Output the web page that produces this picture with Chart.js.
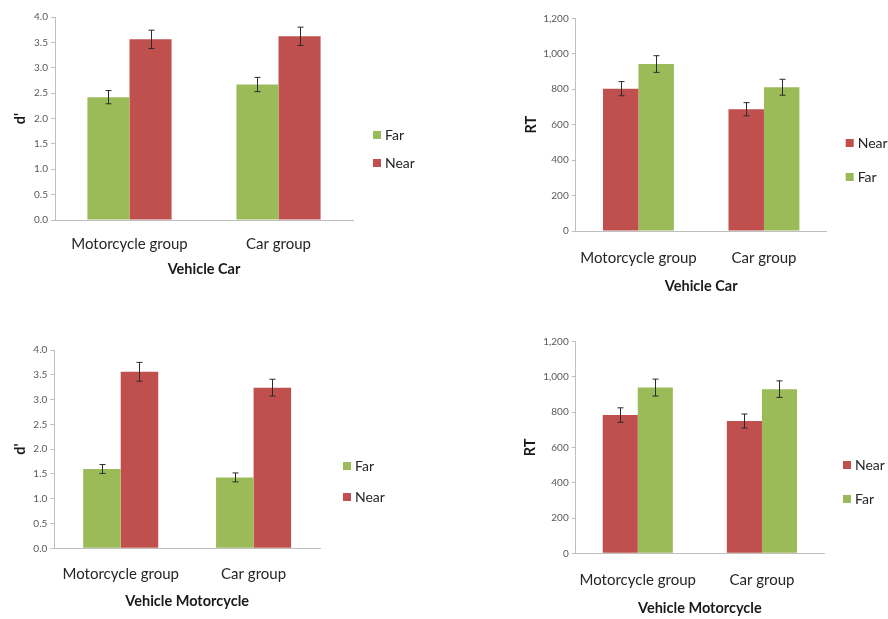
<!DOCTYPE html>
<html>
<head>
<meta charset="utf-8">
<title>d' and RT by vehicle</title>
<script src="https://cdn.jsdelivr.net/npm/chart.js@4.4.0/dist/chart.umd.min.js"></script>
<style>
  html, body { margin: 0; padding: 0; background: #fff; }
  #wrap { position: relative; width: 888px; height: 619px; overflow: hidden; }
  .panel { position: absolute; }
</style>
</head>
<body>
<div id="wrap">
  <canvas class="panel" id="c1"></canvas>
  <canvas class="panel" id="c2"></canvas>
  <canvas class="panel" id="c3"></canvas>
  <canvas class="panel" id="c4"></canvas>
</div>
<script>
// data
const categories = ["Motorcycle group", "Car group"];

const carDFar = [2.42, 2.67];
const carDFarErr = [0.13, 0.14];
const carDNear = [3.56, 3.62];
const carDNearErr = [0.18, 0.18];

const carRTNear = [803, 687];
const carRTNearErr = [40, 37];
const carRTFar = [942, 811];
const carRTFarErr = [47, 45];

const motoDFar = [1.60, 1.43];
const motoDFarErr = [0.09, 0.09];
const motoDNear = [3.56, 3.24];
const motoDNearErr = [0.19, 0.17];

const motoRTNear = [784, 750];
const motoRTNearErr = [41, 40];
const motoRTFar = [940, 931];
const motoRTFarErr = [48, 47];

const dTicks = { max: 4, step: 0.5 };
const rtTicks = { max: 1200, step: 200 };

const GREEN = "#9bbb59";
const RED = "#c0504d";
const FONT = "Lato";

// error bars drawn from the dataset's err array through the y scale
const errorBars = {
  id: "errorBars",
  afterDatasetsDraw(chart) {
    const ctx = chart.ctx;
    const y = chart.scales.y;
    ctx.save();
    ctx.strokeStyle = "#2b2b2b";
    ctx.lineWidth = 1;
    chart.data.datasets.forEach((ds, i) => {
      const meta = chart.getDatasetMeta(i);
      meta.data.forEach((bar, j) => {
        const v = ds.data[j], e = ds.err[j];
        const top = y.getPixelForValue(v + e);
        const bot = y.getPixelForValue(v - e);
        const x = Math.round(bar.x) + 0.5;
        ctx.beginPath();
        ctx.moveTo(x, top); ctx.lineTo(x, bot);
        ctx.moveTo(x - 3, top); ctx.lineTo(x + 3, top);
        ctx.moveTo(x - 3, bot); ctx.lineTo(x + 3, bot);
        ctx.stroke();
      });
    });
    ctx.restore();
  }
};

// legend to the right of the plot, Excel style
const sideLegend = {
  id: "sideLegend",
  afterDraw(chart, args, opts) {
    const ctx = chart.ctx;
    const x = chart.chartArea.right + opts.dx;
    ctx.save();
    ctx.font = "14px " + FONT;
    ctx.textBaseline = "middle";
    ctx.textAlign = "left";
    chart.data.datasets.forEach((ds, i) => {
      const yy = opts.rows[i];
      ctx.fillStyle = ds.backgroundColor;
      ctx.fillRect(x, yy - 4, 8, 8);
      ctx.fillStyle = "#262626";
      ctx.fillText(ds.label, x + 12, yy);
    });
    ctx.restore();
  }
};

function makeChart(id, box, plot, axes, datasets, yTitle, xTitle, ticksCfg, fmt, legend) {
  const cv = document.getElementById(id);
  cv.width = box.w; cv.height = box.h;
  cv.style.left = box.x + "px"; cv.style.top = box.y + "px";
  cv.style.width = box.w + "px"; cv.style.height = box.h + "px";

  const lh = 18;       // 15px labels
  const tlh = 17.4;    // 14.5px titles
  const xAxisH = axes.title + tlh / 2;
  const yAxisW = plot.l - box.x;

  new Chart(cv, {
    type: "bar",
    data: { labels: categories, datasets: datasets },
    plugins: [errorBars, sideLegend],
    options: {
      responsive: false,
      animation: false,
      layout: {
        padding: {
          left: 0,
          top: plot.t - box.y,
          right: box.x + box.w - plot.r,
          bottom: box.y + box.h - plot.b - xAxisH
        }
      },
      plugins: {
        legend: { display: false },
        tooltip: { enabled: false },
        sideLegend: { dx: legend.dx, rows: legend.rows.map(r => r - box.y) }
      },
      datasets: { bar: { categoryPercentage: 0.565, barPercentage: 1 } },
      scales: {
        x: {
          grid: { display: false, drawTicks: false, tickLength: 0 },
          border: { color: "#bfbfbf" },
          ticks: {
            padding: axes.labels - lh / 2,
            color: "#262626",
            font: { family: FONT, size: 15 },
            maxRotation: 0
          },
          title: {
            display: true, text: xTitle, color: "#1a1a1a",
            font: { family: FONT, size: 14.5, weight: "bold" },
            padding: { top: 0, bottom: 0 }
          },
          afterFit(s) { s.height = xAxisH; }
        },
        y: {
          min: 0, max: ticksCfg.max,
          grid: { drawOnChartArea: false, drawTicks: true, tickLength: 4, color: "#bfbfbf" },
          border: { color: "#bfbfbf" },
          ticks: {
            stepSize: ticksCfg.step,
            padding: 3,
            color: "#595959",
            font: { family: FONT, size: 10 },
            callback: fmt
          },
          title: {
            display: true, text: yTitle, color: "#1a1a1a",
            font: { family: FONT, size: 14.5, weight: "bold" },
            padding: { top: axes.ytitle - box.x - tlh / 2, bottom: 0 }
          },
          afterFit(s) { s.width = yAxisW; }
        }
      }
    }
  });
}

const fmtD = v => v.toFixed(1);
const fmtRT = v => v.toLocaleString("en-US");

makeChart("c1",
  { x: 0, y: 0, w: 444, h: 300 },
  { l: 55, t: 17, r: 353, b: 220 },
  { labels: 24, title: 49, ytitle: 20.7 },
  [
    { label: "Far", data: carDFar, err: carDFarErr, backgroundColor: GREEN },
    { label: "Near", data: carDNear, err: carDNearErr, backgroundColor: RED }
  ],
  "d'", "Vehicle Car", dTicks, fmtD,
  { dx: 20, rows: [135, 163] });

makeChart("c2",
  { x: 444, y: 0, w: 444, h: 310 },
  { l: 575.7, t: 18.3, r: 826.7, b: 231 },
  { labels: 27, title: 55, ytitle: 531 },
  [
    { label: "Near", data: carRTNear, err: carRTNearErr, backgroundColor: RED },
    { label: "Far", data: carRTFar, err: carRTFarErr, backgroundColor: GREEN }
  ],
  "RT", "Vehicle Car", rtTicks, fmtRT,
  { dx: 19, rows: [143, 177] });

makeChart("c3",
  { x: 0, y: 310, w: 444, h: 309 },
  { l: 54.3, t: 350, r: 320, b: 548.3 },
  { labels: 25.7, title: 52.7, ytitle: 20.7 },
  [
    { label: "Far", data: motoDFar, err: motoDFarErr, backgroundColor: GREEN },
    { label: "Near", data: motoDNear, err: motoDNearErr, backgroundColor: RED }
  ],
  "d'", "Vehicle Motorcycle", dTicks, fmtD,
  { dx: 23, rows: [466, 497] });

makeChart("c4",
  { x: 444, y: 310, w: 444, h: 309 },
  { l: 575.7, t: 341.7, r: 824, b: 553.3 },
  { labels: 26.7, title: 54.7, ytitle: 530 },
  [
    { label: "Near", data: motoRTNear, err: motoRTNearErr, backgroundColor: RED },
    { label: "Far", data: motoRTFar, err: motoRTFarErr, backgroundColor: GREEN }
  ],
  "RT", "Vehicle Motorcycle", rtTicks, fmtRT,
  { dx: 19, rows: [465, 499] });
</script>
</body>
</html>
